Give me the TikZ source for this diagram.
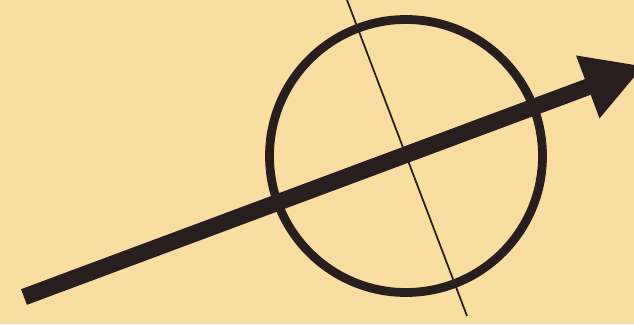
\documentclass[tikz,border=0pt]{standalone}
\usetikzlibrary{arrows.meta}

\definecolor{paper}{RGB}{250,221,160}
\definecolor{ink}{RGB}{40,30,30}

\begin{document}
\begin{tikzpicture}[
    x=0.02cm, y=-0.02cm,
    ring/.style={draw=ink, line width=5pt},
    axis/.style={draw=ink, line width=1pt},
    vector/.style={draw=ink, line width=9.5pt,
        -{Triangle[length=1.2cm, width=1.25cm]}}
]

% Paper
\clip (0,0) rectangle (634,324);
\fill[paper] (0,0) rectangle (634,324);

% -------------------------
% Points
% -------------------------
\coordinate (centre) at (406,156);
\coordinate (axistop) at (347,0);
\coordinate (axisbot) at (467,316);
\coordinate (tail) at (24,297);
\coordinate (tip) at (644,66);

% Circle
\draw[ring] (centre) circle[radius=136.5];

% Thin axis through the centre
\draw[axis] (axistop) -- (axisbot);

% Thick arrow
\draw[vector] (tail) -- (tip);

\end{tikzpicture}
\end{document}
